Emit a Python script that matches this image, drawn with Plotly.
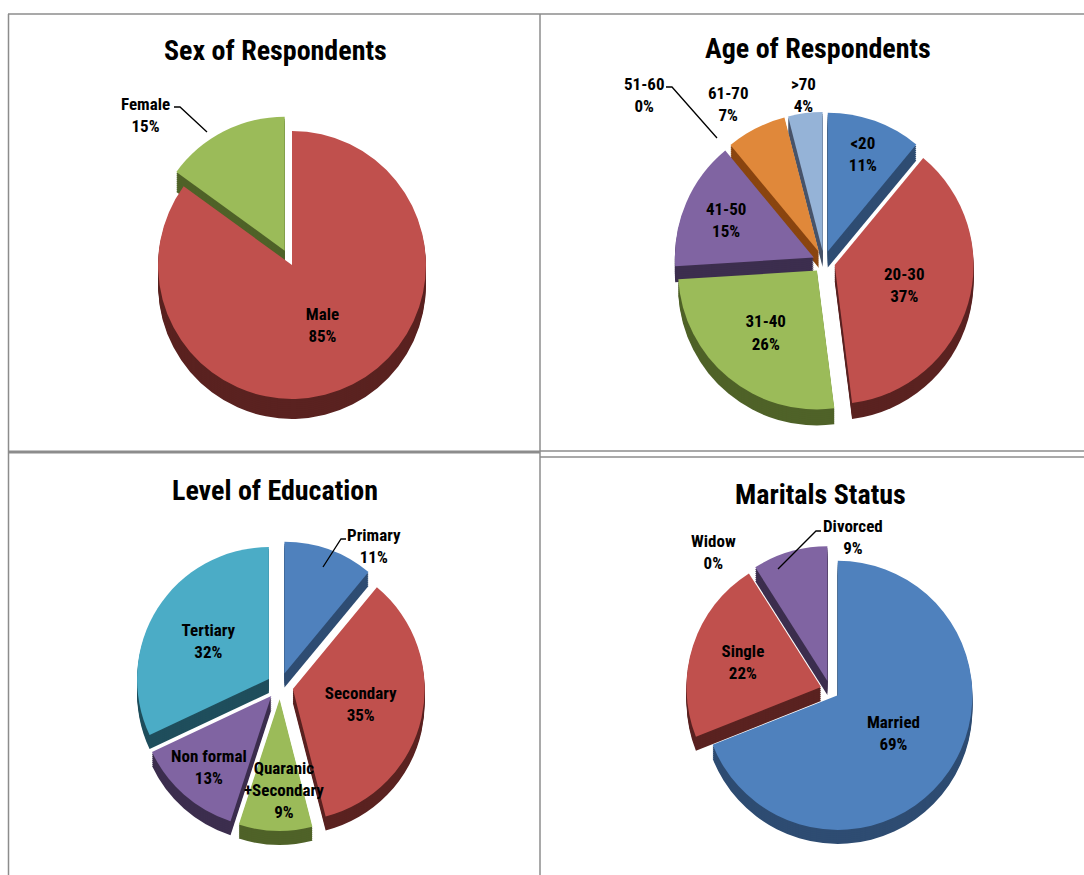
import plotly.graph_objects as go

W, H = 1084, 875

# ---- data ----
sex_labels = ["Male", "Female"]
sex_values = [85, 15]

age_labels = ["<20", "20-30", "31-40", "41-50", "51-60", "61-70", ">70"]
age_values = [11, 37, 26, 15, 0, 7, 4]

edu_labels = ["Primary", "Secondary", "Quaranic<br>+Secondary", "Non formal", "Tertiary"]
edu_values = [11, 35, 9, 13, 32]

mar_labels = ["Married", "Single", "Widow", "Divorced"]
mar_values = [69, 22, 0, 9]

titles = ["Sex of Respondents", "Age of Respondents", "Level of Education", "Maritals Status"]

# ---- styles ----
FONT = "Liberation Sans Narrow, Arial Narrow, Roboto Condensed, Liberation Sans, sans-serif"
FS = 17
BLUE, RED, GREEN, PURPLE, TEAL, ORANGE, LBLUE = (
    "#4F81BD", "#C0504D", "#9BBB59", "#8064A2", "#4BACC6", "#E0883A", "#95B3D7")
D_BLUE, D_RED, D_GREEN, D_PURPLE, D_TEAL, D_ORANGE, D_LBLUE = (
    "#2E4C72", "#5A2220", "#4F6228", "#3C2E4E", "#1F4E5C", "#8A4510", "#48546A")


def dom(cx, cy, s, dy=0):
    return dict(x=[(cx - s / 2) / W, (cx + s / 2) / W],
                y=[1 - (cy + dy + s / 2) / H, 1 - (cy + dy - s / 2) / H])


fig = go.Figure()


def add_pie(labels, values, colors, dark, cx, cy, s, pulls, textpos, depth=16):
    for k in range(depth, 0, -2):
        fig.add_trace(go.Pie(
            labels=labels, values=values, sort=False, direction="clockwise", rotation=0,
            pull=pulls, marker=dict(colors=dark, line=dict(width=0)),
            textinfo="none", hoverinfo="skip", showlegend=False,
            domain=dom(cx, cy, s, dy=k)))
    fig.add_trace(go.Pie(
        labels=labels, values=values, sort=False, direction="clockwise", rotation=0,
        pull=pulls, marker=dict(colors=colors, line=dict(width=0)),
        texttemplate="<b>%{label}<br>%{percent:.0%}</b>", textposition=textpos,
        insidetextorientation="horizontal",
        textfont=dict(family=FONT, size=FS, color="#000000"),
        hoverinfo="label+percent", showlegend=False,
        domain=dom(cx, cy, s)))


add_pie(sex_labels, sex_values, [RED, GREEN], [D_RED, D_GREEN],
        292, 265, 300, [0, 0.12], ["inside", "none"], depth=20)

add_pie(age_labels, age_values, [BLUE, RED, GREEN, PURPLE, TEAL, ORANGE, LBLUE],
        [D_BLUE, D_RED, D_GREEN, D_PURPLE, D_TEAL, D_ORANGE, D_LBLUE],
        824, 262, 300, [0.08] * 7,
        ["inside", "inside", "inside", "inside", "none", "none", "none"], depth=16)

add_pie(edu_labels, edu_values, [BLUE, RED, GREEN, PURPLE, TEAL],
        [D_BLUE, D_RED, D_GREEN, D_PURPLE, D_TEAL],
        280, 686, 290, [0.1] * 5,
        ["none", "inside", "none", "inside", "inside"], depth=14)

add_pie(mar_labels, mar_values, [BLUE, RED, GREEN, PURPLE],
        [D_BLUE, D_RED, D_GREEN, D_PURPLE],
        830, 690, 288, [0.07] * 4,
        ["inside", "inside", "none", "none"], depth=14)

annotations = []
tpos = [(275, 50), (818, 48), (275, 490), (820, 494)]
for t, (x, y) in zip(titles, tpos):
    annotations.append(dict(text="<b>%s</b>" % t, x=x, y=y, xref="x", yref="y",
                            xanchor="center", yanchor="middle",
                            showarrow=False, font=dict(family=FONT, size=28, color="#000000")))

LBL = dict(family=FONT, size=FS, color="#000000")


def lbl(lab, val, pos):
    annotations.append(dict(text="<b>%s<br>%d%%</b>" % (lab, val), xref="x", yref="y",
                            x=pos[0], y=pos[1], showarrow=False, font=LBL,
                            xanchor="center", yanchor="middle"))


lbl(sex_labels[1], sex_values[1], (145, 115))
lbl(age_labels[4], age_values[4], (644, 95))
lbl(age_labels[5], age_values[5], (728, 104))
lbl(age_labels[6], age_values[6], (803, 95))
lbl(edu_labels[0], edu_values[0], (374, 546))
lbl(edu_labels[2], edu_values[2], (284, 790))
lbl(mar_labels[2], mar_values[2], (713, 552))
lbl(mar_labels[3], mar_values[3], (853, 537))

LC = "#8C8C8C"
shapes = [
    dict(type="line", x0=8, x1=W, y0=14, y1=14),
    dict(type="line", x0=8.5, x1=8.5, y0=14, y1=H),
    dict(type="line", x0=540, x1=540, y0=14, y1=H),
    dict(type="line", x0=8, x1=540, y0=452, y1=452, line=dict(width=3, color=LC)),
    dict(type="line", x0=540, x1=W, y0=451, y1=451),
    dict(type="line", x0=540, x1=W, y0=457, y1=457),
]
for s in shapes:
    s.setdefault("line", dict(width=1.5, color=LC))

# leader lines
for path in ["M 174 107 L 180 107 L 207 132",
             "M 666 87 L 672 87 L 717 138",
             "M 346 539 L 341 539 L 323 567",
             "M 821 531 L 816 531 L 778 569"]:
    shapes.append(dict(type="path", path=path, line=dict(width=1.3, color="#000000")))

for s in shapes:
    s.update(xref="x", yref="y", layer="above")

fig.update_layout(
    width=W, height=H, margin=dict(l=0, r=0, t=0, b=0),
    paper_bgcolor="white", plot_bgcolor="rgba(0,0,0,0)",
    xaxis=dict(range=[0, W], visible=False, fixedrange=True),
    yaxis=dict(range=[H, 0], visible=False, fixedrange=True),
    shapes=shapes, annotations=annotations,
    uniformtext=dict(minsize=FS, mode="show"),
    font=dict(family=FONT),
)

fig.write_html("out.html", config={"displayModeBar": False},
               post_script="document.body.style.margin='0';")
